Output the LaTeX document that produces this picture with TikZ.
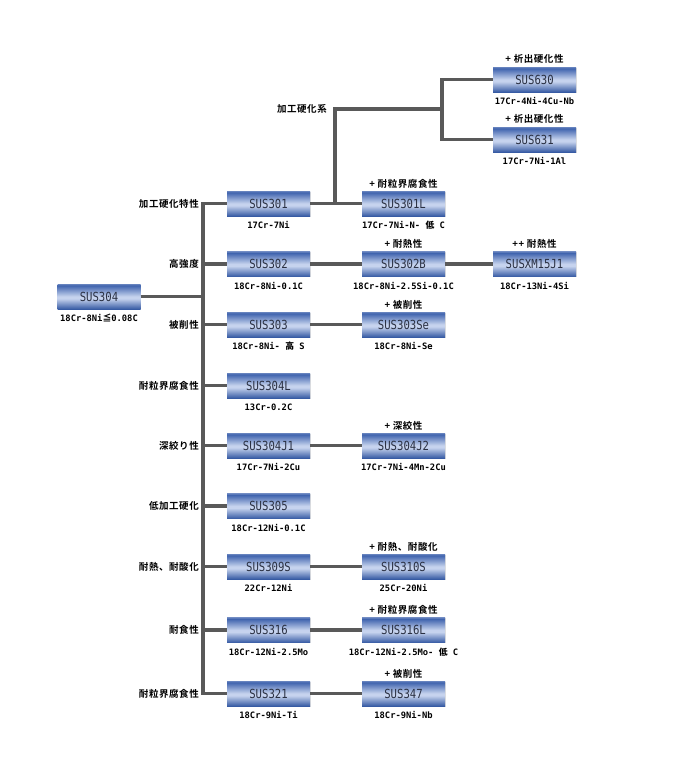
\documentclass[tikz,border=0pt]{standalone}
\usepackage{fontspec}
\usetikzlibrary{shadows}
\newfontfamily\cjkb[BoldFont={* Bold},LetterSpace=6]{Noto Sans CJK JP}
\newfontfamily\cjkn{Noto Sans CJK JP}
\newfontfamily\boxfont[FakeStretch=0.85]{DejaVu Sans Mono}
\newfontfamily\subfont{DejaVu Sans Mono}
\definecolor{btop}{HTML}{4064AE}
\definecolor{blight}{HTML}{C6D3EE}
\definecolor{bbot}{HTML}{375BA4}
\definecolor{lnc}{HTML}{595959}
\definecolor{btxt}{HTML}{2A3042}
\pgfdeclareverticalshading{boxshade}{100bp}{color(0bp)=(bbot); color(25bp)=(bbot); color(46bp)=(blight); color(50bp)=(blight); color(72bp)=(btop); color(75bp)=(btop!80!white); color(100bp)=(btop!80!white)}
\tikzset{
  sbox/.style={minimum width=83pt, minimum height=25pt, inner sep=0pt,
    shading=boxshade, drop shadow={opacity=0.25, shadow xshift=0.8pt, shadow yshift=-0.8pt},
    font=\boxfont\fontsize{12.5pt}{13pt}\selectfont, text=btxt},
  sub/.style={font=\subfont\bfseries\fontsize{8.8pt}{10pt}\selectfont, inner sep=0pt, text=black},
  top/.style={font=\cjkb\bfseries\fontsize{9.5pt}{10pt}\selectfont, inner sep=0pt, text=black},
  rowlab/.style={font=\cjkb\bfseries\fontsize{9.5pt}{10pt}\selectfont, inner sep=0pt, anchor=east, text=black},
  conn/.style={draw=lnc, line width=3.4pt, line join=miter}
}
\newcommand{\cj}[1]{{\cjkn\bfseries #1}}
\begin{document}
\begin{tikzpicture}[x=1pt,y=-1pt]
\fill[white] (0,0) rectangle (690,766);
\useasboundingbox (0,0) rectangle (690,766);

% boxes
\node[sbox] (s304) at (99,296.5) {SUS304};
\node[sbox] (s301) at (268.5,203.5) {SUS301};
\node[sbox] (s302) at (268.5,264) {SUS302};
\node[sbox] (s303) at (268.5,324.5) {SUS303};
\node[sbox] (s304L) at (268.5,385.5) {SUS304L};
\node[sbox] (s304J1) at (268.5,445.5) {SUS304J1};
\node[sbox] (s305) at (268.5,506) {SUS305};
\node[sbox] (s309S) at (268.5,566.5) {SUS309S};
\node[sbox] (s316) at (268.5,630) {SUS316};
\node[sbox] (s321) at (268.5,693.5) {SUS321};
\node[sbox] (s301L) at (403.5,203.5) {SUS301L};
\node[sbox] (s302B) at (403.5,264) {SUS302B};
\node[sbox] (s303Se) at (403.5,324.5) {SUS303Se};
\node[sbox] (s304J2) at (403.5,445.5) {SUS304J2};
\node[sbox] (s310S) at (403.5,566.5) {SUS310S};
\node[sbox] (s316L) at (403.5,630) {SUS316L};
\node[sbox] (s347) at (403.5,693.5) {SUS347};
\node[sbox] (sxm) at (534.5,264) {SUSXM15J1};
\node[sbox] (s630) at (534.5,79.5) {SUS630};
\node[sbox] (s631) at (534.5,139.5) {SUS631};

% coordinates
\coordinate (tr) at (203,0);
\coordinate (hk) at (335,109);
\coordinate (b2) at (442,109);

% connectors
\draw[conn] (s301.west) -- (s301.west -| tr) -- (s321.west -| tr) -- (s321.west);
\draw[conn] (s304.east) -- (s304.east -| tr);
\foreach \n in {s302,s303,s304L,s304J1,s305,s309S,s316} \draw[conn] (\n.west) -- (\n.west -| tr);
\draw[conn] (s301.east) -- (s301L.west);
\draw[conn] (s301.east -| hk) -- (hk) -- (b2);
\draw[conn] (s630.west) -- (s630.west -| b2) -- (s631.west -| b2) -- (s631.west);
\draw[conn] (s302.east) -- (s302B.west);
\draw[conn] (s302B.east) -- (sxm.west);
\draw[conn] (s303.east) -- (s303Se.west);
\draw[conn] (s304J1.east) -- (s304J2.west);
\draw[conn] (s309S.east) -- (s310S.west);
\draw[conn] (s316.east) -- (s316L.west);
\draw[conn] (s321.east) -- (s347.west);

% row labels
\node[rowlab] (l1) at ([xshift=-4pt]s301.west -| tr) {加工硬化特性};
\node[rowlab] (l2) at ([xshift=-4pt]s302.west -| tr) {高強度};
\node[rowlab] (l3) at ([xshift=-4pt]s303.west -| tr) {被削性};
\node[rowlab] (l4) at ([xshift=-4pt]s304L.west -| tr) {耐粒界腐食性};
\node[rowlab] (l5) at ([xshift=-4pt]s304J1.west -| tr) {深絞り性};
\node[rowlab] (l6) at ([xshift=-4pt]s305.west -| tr) {低加工硬化};
\node[rowlab] (l7) at ([xshift=-4pt]s309S.west -| tr) {耐熱、耐酸化};
\node[rowlab] (l8) at ([xshift=-4pt]s316.west -| tr) {耐食性};
\node[rowlab] (l9) at ([xshift=-4pt]s321.west -| tr) {耐粒界腐食性};
\node[rowlab] (lhk) at ([xshift=-8pt]hk) {加工硬化系};

% top labels
\node[top] (t630) at ([yshift=8pt]s630.north) {+ 析出硬化性};
\node[top] (t631) at ([yshift=8pt]s631.north) {+ 析出硬化性};
\node[top] (t301L) at ([yshift=7pt]s301L.north) {+ 耐粒界腐食性};
\node[top] (t302B) at ([yshift=7pt]s302B.north) {+ 耐熱性};
\node[top] (txm) at ([yshift=7pt]sxm.north) {++ 耐熱性};
\node[top] (t303Se) at ([yshift=7pt]s303Se.north) {+ 被削性};
\node[top] (t304J2) at ([yshift=7pt]s304J2.north) {+ 深絞性};
\node[top] (t310S) at ([yshift=7pt]s310S.north) {+ 耐熱、耐酸化};
\node[top] (t316L) at ([yshift=7pt]s316L.north) {+ 耐粒界腐食性};
\node[top] (t347) at ([yshift=7pt]s347.north) {+ 被削性};

% sub labels
\node[sub] (u304) at ([yshift=-9pt]s304.south) {18Cr-8Ni\cj{≦}0.08C};
\node[sub] (u301) at ([yshift=-9pt]s301.south) {17Cr-7Ni};
\node[sub] (u302) at ([yshift=-9pt]s302.south) {18Cr-8Ni-0.1C};
\node[sub] (u303) at ([yshift=-9pt]s303.south) {18Cr-8Ni- \cj{高} S};
\node[sub] (u304L) at ([yshift=-9pt]s304L.south) {13Cr-0.2C};
\node[sub] (u304J1) at ([yshift=-9pt]s304J1.south) {17Cr-7Ni-2Cu};
\node[sub] (u305) at ([yshift=-9pt]s305.south) {18Cr-12Ni-0.1C};
\node[sub] (u309S) at ([yshift=-9pt]s309S.south) {22Cr-12Ni};
\node[sub] (u316) at ([yshift=-9pt]s316.south) {18Cr-12Ni-2.5Mo};
\node[sub] (u321) at ([yshift=-9pt]s321.south) {18Cr-9Ni-Ti};
\node[sub] (u301L) at ([yshift=-9pt]s301L.south) {17Cr-7Ni-N- \cj{低} C};
\node[sub] (u302B) at ([yshift=-9pt]s302B.south) {18Cr-8Ni-2.5Si-0.1C};
\node[sub] (u303Se) at ([yshift=-9pt]s303Se.south) {18Cr-8Ni-Se};
\node[sub] (u304J2) at ([yshift=-9pt]s304J2.south) {17Cr-7Ni-4Mn-2Cu};
\node[sub] (u310S) at ([yshift=-9pt]s310S.south) {25Cr-20Ni};
\node[sub] (u316L) at ([yshift=-9pt]s316L.south) {18Cr-12Ni-2.5Mo- \cj{低} C};
\node[sub] (u347) at ([yshift=-9pt]s347.south) {18Cr-9Ni-Nb};
\node[sub] (uxm) at ([yshift=-9pt]sxm.south) {18Cr-13Ni-4Si};
\node[sub] (u630) at ([yshift=-9pt]s630.south) {17Cr-4Ni-4Cu-Nb};
\node[sub] (u631) at ([yshift=-9pt]s631.south) {17Cr-7Ni-1Al};
\end{tikzpicture}
\end{document}
